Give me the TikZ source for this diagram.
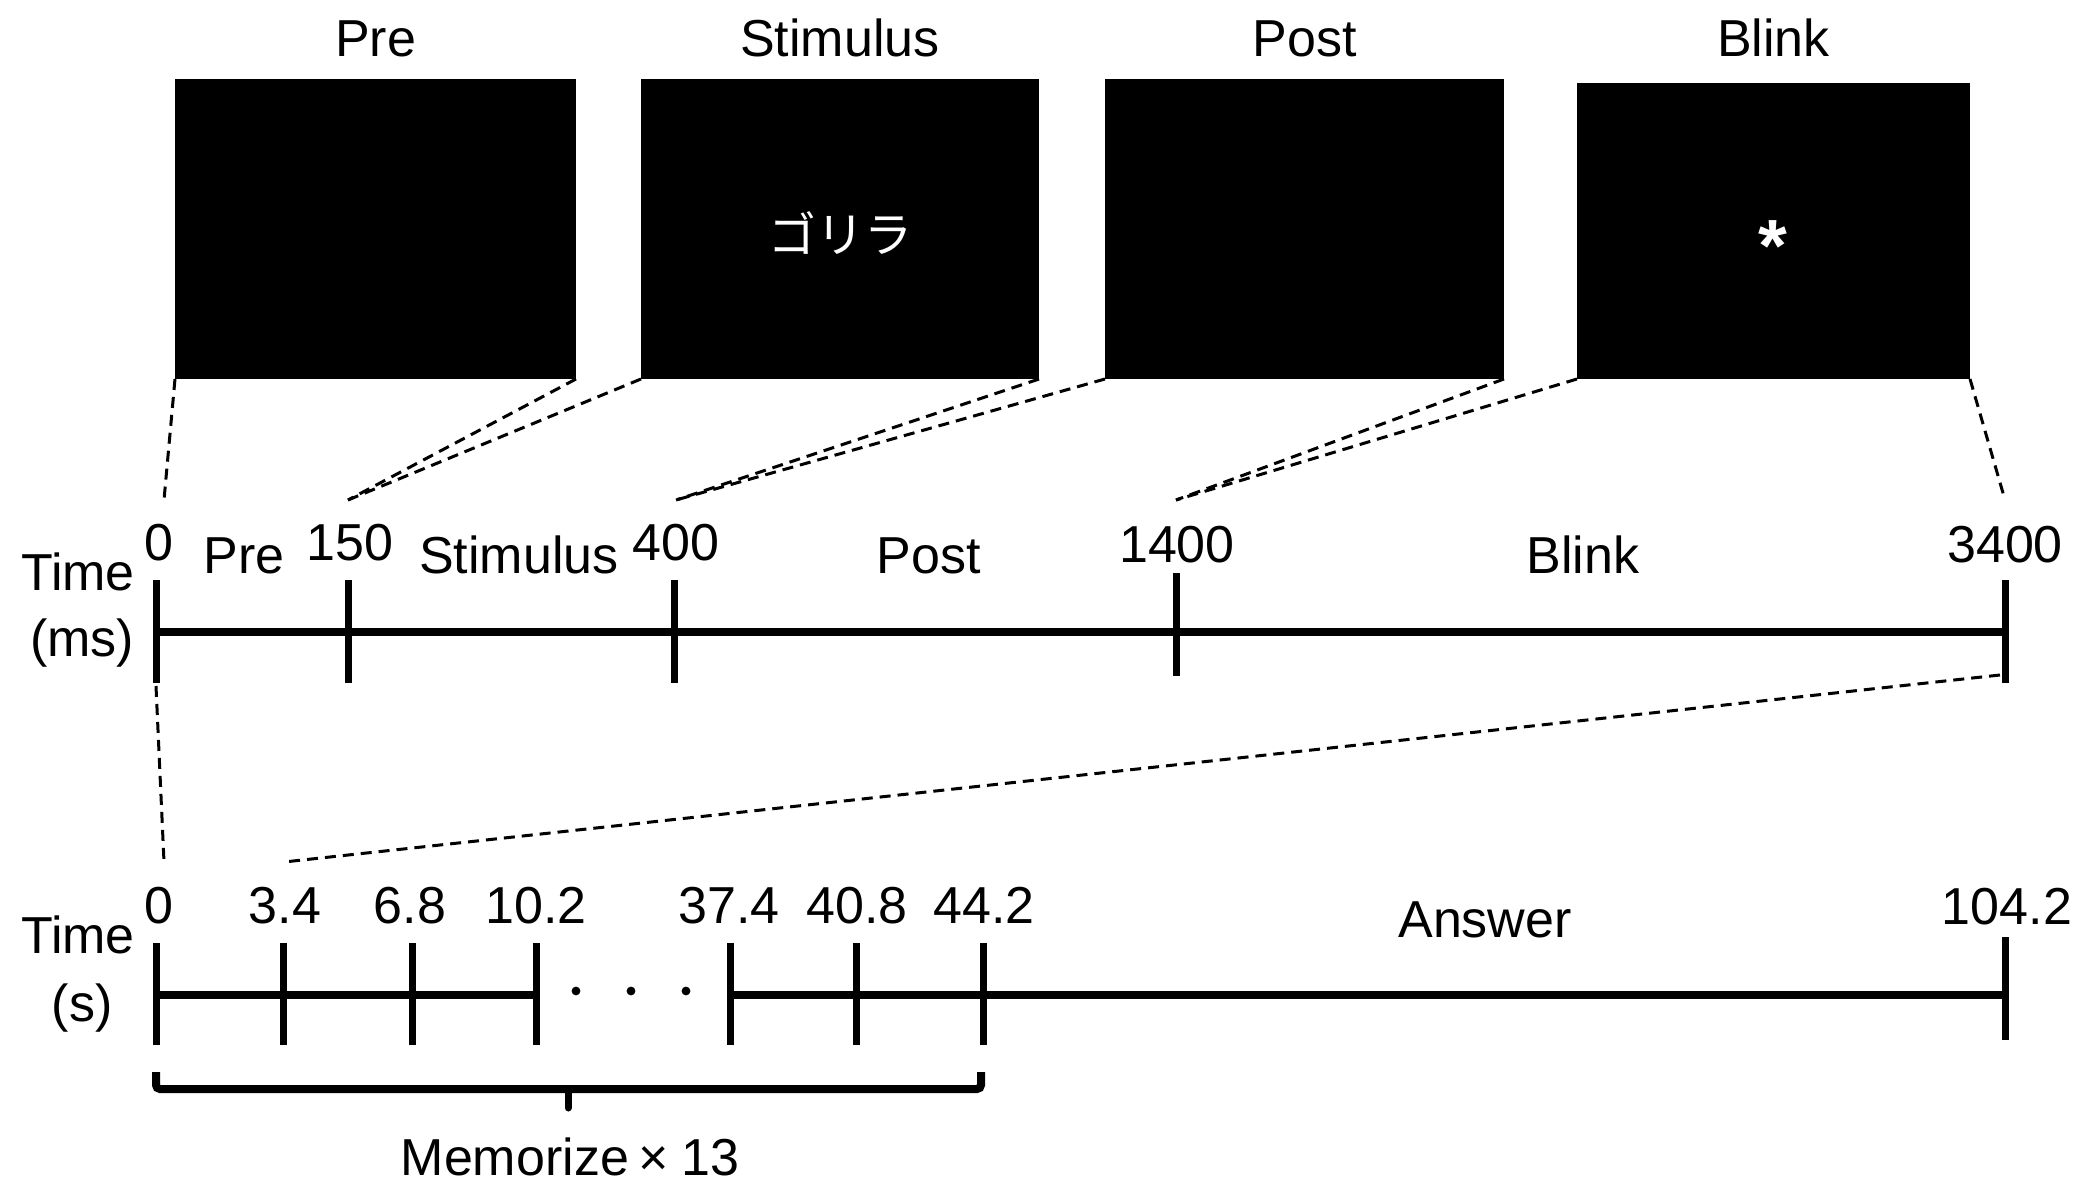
\documentclass[tikz,border=0pt]{standalone}
\usepackage{fontspec}
\setmainfont{Liberation Sans}
\newfontfamily\jpfont{Noto Sans CJK JP}
\begin{document}
\begin{tikzpicture}[x=0.5pt,y=-0.5pt,
  screen/.style={fill=black, draw=none, inner sep=0pt, outer sep=0pt},
  lbl/.style={anchor=base, inner sep=0pt, font=\fontsize{26}{30}\selectfont},
  axisline/.style={line width=4pt},
  tickline/.style={line width=3.5pt},
  conn/.style={line width=1.5pt, dash pattern=on 5.5pt off 3.5pt}]
\useasboundingbox (0,0) rectangle (2099,1203);

% screens
\node[screen, minimum width=200.5pt, minimum height=150pt] (pre)   at (375.5,229) {};
\node[screen, minimum width=199pt,   minimum height=150pt] (stim)  at (840,229) {};
\node[screen, minimum width=199.5pt, minimum height=150pt] (post)  at (1304.5,229) {};
\node[screen, minimum width=196.5pt, minimum height=148pt] (blink) at (1773.5,231) {};

\node[lbl] (tpre)   at (375.5,57) {Pre};
\node[lbl] (tstim)  at (840,57) {Stimulus};
\node[lbl] (tpost)  at (1304.5,57) {Post};
\node[lbl] (tblink) at (1773.5,57) {Blink};

\node[inner sep=0pt, text=white, font=\jpfont\fontsize{24}{28}\selectfont] (jp) at (840,233) {ゴリラ};
\node[lbl, text=white, font=\bfseries\fontsize{37}{44}\selectfont] (ast) at (1773,272) {*};

% ms axis
\coordinate (m0) at (156,632);
\coordinate (m3400) at (2005,632);
\draw[axisline] (m0) -- (m3400);
\draw[tickline] (156,580) -- (156,683);
\draw[tickline] (348,580) -- (348,683);
\draw[tickline] (674,580) -- (674,683);
\draw[tickline] (1176,573) -- (1176,676);
\draw[tickline] (2005,580) -- (2005,683);

\node[lbl] (timems) at (78,590) {Time};
\node[lbl] (ms) at (82,656) {(ms)};
\node[lbl] (n0) at (159,560) {0};
\node[lbl] (lpre) at (244,573) {Pre};
\node[lbl] (n150) at (350,560) {150};
\node[lbl] (lstim) at (519,573) {Stimulus};
\node[lbl] (n400) at (676,560) {400};
\node[lbl] (lpost) at (929,573) {Post};
\node[lbl] (n1400) at (1177,562) {1400};
\node[lbl] (lblink) at (1583,573) {Blink};
\node[lbl] (n3400) at (2005,562) {3400};

% connector ends
\coordinate (c0) at (164,500);
\coordinate (c150) at (348,500);
\coordinate (c400) at (676,500);
\coordinate (c1400) at (1176,500);
\coordinate (c3400) at (2005,500);

\draw[conn] (pre.south west) -- (c0);
\draw[conn] (pre.south east) -- (c150);
\draw[conn] (stim.south west) -- (c150);
\draw[conn] (stim.south east) -- (c400);
\draw[conn] (post.south west) -- (c400);
\draw[conn] (post.south east) -- (c1400);
\draw[conn] (blink.south west) -- (c1400);
\draw[conn] (blink.south east) -- (c3400);

% s axis
\draw[axisline] (156,995) -- (536,995);
\draw[axisline] (730,995) -- (2005,995);
\foreach \x in {156,283,412,536,730,856,983} \draw[tickline] (\x,943) -- (\x,1045);
\draw[tickline] (2005,937) -- (2005,1040);
\foreach \x in {576,631,686} \fill (\x,991) circle (2.2pt);

\node[lbl] (timess) at (78,953) {Time};
\node[lbl] (sec) at (82,1021) {(s)};
\node[lbl] (s0) at (159,923) {0};
\node[lbl] (s1) at (285,923) {3.4};
\node[lbl] (s2) at (410,923) {6.8};
\node[lbl] (s3) at (536,923) {10.2};
\node[lbl] (s4) at (729,923) {37.4};
\node[lbl] (s5) at (857,923) {40.8};
\node[lbl] (s6) at (984,923) {44.2};
\node[lbl] (ans) at (1485,937) {Answer};
\node[lbl] (s7) at (2007,924) {104.2};

% lower connectors
\coordinate (d0top) at (156,686);
\coordinate (d0bot) at (164,862);
\coordinate (d1top) at (2000,675);
\coordinate (d1bot) at (284,862);
\draw[conn] (d0top) -- (d0bot);
\draw[conn] (d1top) -- (d1bot);

% brace
\draw[axisline, rounded corners=2pt] (156,1072) -- (156,1089) -- (981,1089) -- (981,1072);
\draw[tickline, line cap=round] (568,1089) -- (568,1108);
\node[lbl] (mem) at (570,1175) {Memorize\kern5pt×\kern6pt13};
\end{tikzpicture}
\end{document}
